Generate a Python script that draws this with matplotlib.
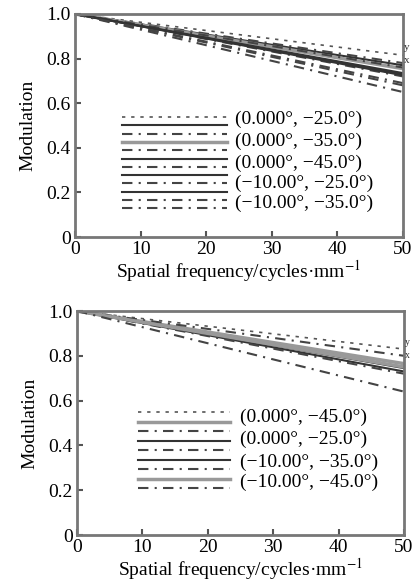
import matplotlib
matplotlib.use("Agg")
import matplotlib.pyplot as plt
import numpy as np

plt.rcParams['font.family'] = ['Liberation Serif', 'DejaVu Serif']
plt.rcParams['mathtext.fontset'] = 'stix'

freq = [0, 10, 20, 30, 40, 50]

# top panel curves (modulation values at freq)
top_vals = [
    [1.0, 0.963, 0.926, 0.889, 0.852, 0.815],
    [1.0, 0.954, 0.908, 0.862, 0.816, 0.770],
    [1.0, 0.956, 0.912, 0.868, 0.824, 0.780],
    [1.0, 0.951, 0.902, 0.853, 0.804, 0.755],
    [1.0, 0.952, 0.904, 0.856, 0.808, 0.760],
    [1.0, 0.946, 0.892, 0.838, 0.784, 0.730],
    [1.0, 0.944, 0.888, 0.832, 0.776, 0.720],
    [1.0, 0.945, 0.890, 0.835, 0.780, 0.725],
    [1.0, 0.938, 0.876, 0.814, 0.752, 0.690],
    [1.0, 0.947, 0.894, 0.841, 0.788, 0.735],
    [1.0, 0.936, 0.872, 0.808, 0.744, 0.680],
    [1.0, 0.930, 0.860, 0.790, 0.720, 0.650],
]
top_labels = ["(0.000°, −25.0°)", "(0.000°, −35.0°)", "(0.000°, −45.0°)",
              "(−10.00°, −25.0°)", "(−10.00°, −35.0°)"]

bot_vals = [
    [1.0, 0.966, 0.932, 0.898, 0.864, 0.830],
    [1.0, 0.953, 0.906, 0.859, 0.812, 0.765],
    [1.0, 0.960, 0.920, 0.880, 0.840, 0.800],
    [1.0, 0.949, 0.898, 0.847, 0.796, 0.745],
    [1.0, 0.950, 0.900, 0.850, 0.800, 0.750],
    [1.0, 0.946, 0.892, 0.838, 0.784, 0.730],
    [1.0, 0.944, 0.888, 0.832, 0.776, 0.720],
    [1.0, 0.950, 0.900, 0.850, 0.800, 0.750],
    [1.0, 0.928, 0.856, 0.784, 0.712, 0.640],
]
bot_labels = ["(0.000°, −45.0°)", "(0.000°, −25.0°)",
              "(−10.00°, −35.0°)", "(−10.00°, −45.0°)"]

xticks = [0, 10, 20, 30, 40, 50]
yticks = [0, 0.2, 0.4, 0.6, 0.8, 1.0]
yticklabels = ["0", "0.2", "0.4", "0.6", "0.8", "1.0"]

DOT = dict(color='#555555', lw=1.2, ls=(0, (2, 3.5)))
DD = dict(color='#444444', lw=1.5, ls=(0, (5, 3, 1, 3)))
SD = dict(color='#333333', lw=1.5, ls='-')
SG = dict(color='#999999', lw=2.5, ls='-')

top_styles = [DOT, SD, DD, SG, DD, SD, DD, SD, DD, SD, DD, DD]
bot_styles = [DOT, SG, DD, SD, DD, SD, DD, SG, DD]

fig = plt.figure(figsize=(4.14, 5.83), dpi=100)
ax1 = fig.add_axes([75/414, 1-237/583, 328/414, 223/583])
ax2 = fig.add_axes([77/414, 1-535/583, 327/414, 224/583])

FS = 14

def style_ax(ax):
    ax.set_xlim(0, 50)
    ax.set_ylim(0, 1.0)
    ax.set_xticks(xticks)
    ax.set_yticks(yticks)
    ax.set_yticklabels(yticklabels)
    ax.tick_params(direction='in', length=4, width=1.5, color='#555555',
                   labelsize=FS, top=False, right=False, pad=3)
    for s in ax.spines.values():
        s.set_color('#777777')
        s.set_linewidth(2)
    ax.set_xlabel("Spatial frequency/cycles·mm$^{-1}$", fontsize=FS, labelpad=0)
    ax.set_ylabel("Modulation", fontsize=FS, labelpad=7)

def legend_rows(ax, styles, y0, dy, x0, x1, labels, label_ys, lx, ybot, ytop, W):
    H = ybot - ytop
    for i, st in enumerate(styles):
        yp = y0 + i * dy
        yf = (ybot - yp) / H
        ax.plot([x0, x1], [yf, yf], transform=ax.transAxes, clip_on=False, **st)
    for lab, ly in zip(labels, label_ys):
        ax.text(lx, (ybot - ly) / H, lab, transform=ax.transAxes,
                fontsize=FS, va='center', ha='left')

for vals, st in zip(top_vals, top_styles):
    ax1.plot(freq, vals, **st)
for vals, st in zip(bot_vals, bot_styles):
    ax2.plot(freq, vals, **st)

style_ax(ax1)
style_ax(ax2)

legend_rows(ax1, top_styles, 117, 8.3, (122-75)/328, (227-75)/328,
            top_labels, [119, 141, 163, 183, 203], (235-75)/328, 237, 14, 328)
legend_rows(ax2, bot_styles, 412, 9.5, (138-77)/327, (230-77)/327,
            bot_labels, [417, 439, 462, 482], (240-77)/327, 535, 311, 327)

ax1.text(50.2, 0.85, "y", fontsize=8, va='center', ha='left', clip_on=False, color='#333333')
ax1.text(50.2, 0.79, "x", fontsize=8, va='center', ha='left', clip_on=False, color='#333333')
ax2.text(50.2, 0.86, "y", fontsize=7, va='center', ha='left', clip_on=False, color='#333333')
ax2.text(50.2, 0.80, "x", fontsize=7, va='center', ha='left', clip_on=False, color='#333333')

fig.savefig("out.png", dpi=100)
